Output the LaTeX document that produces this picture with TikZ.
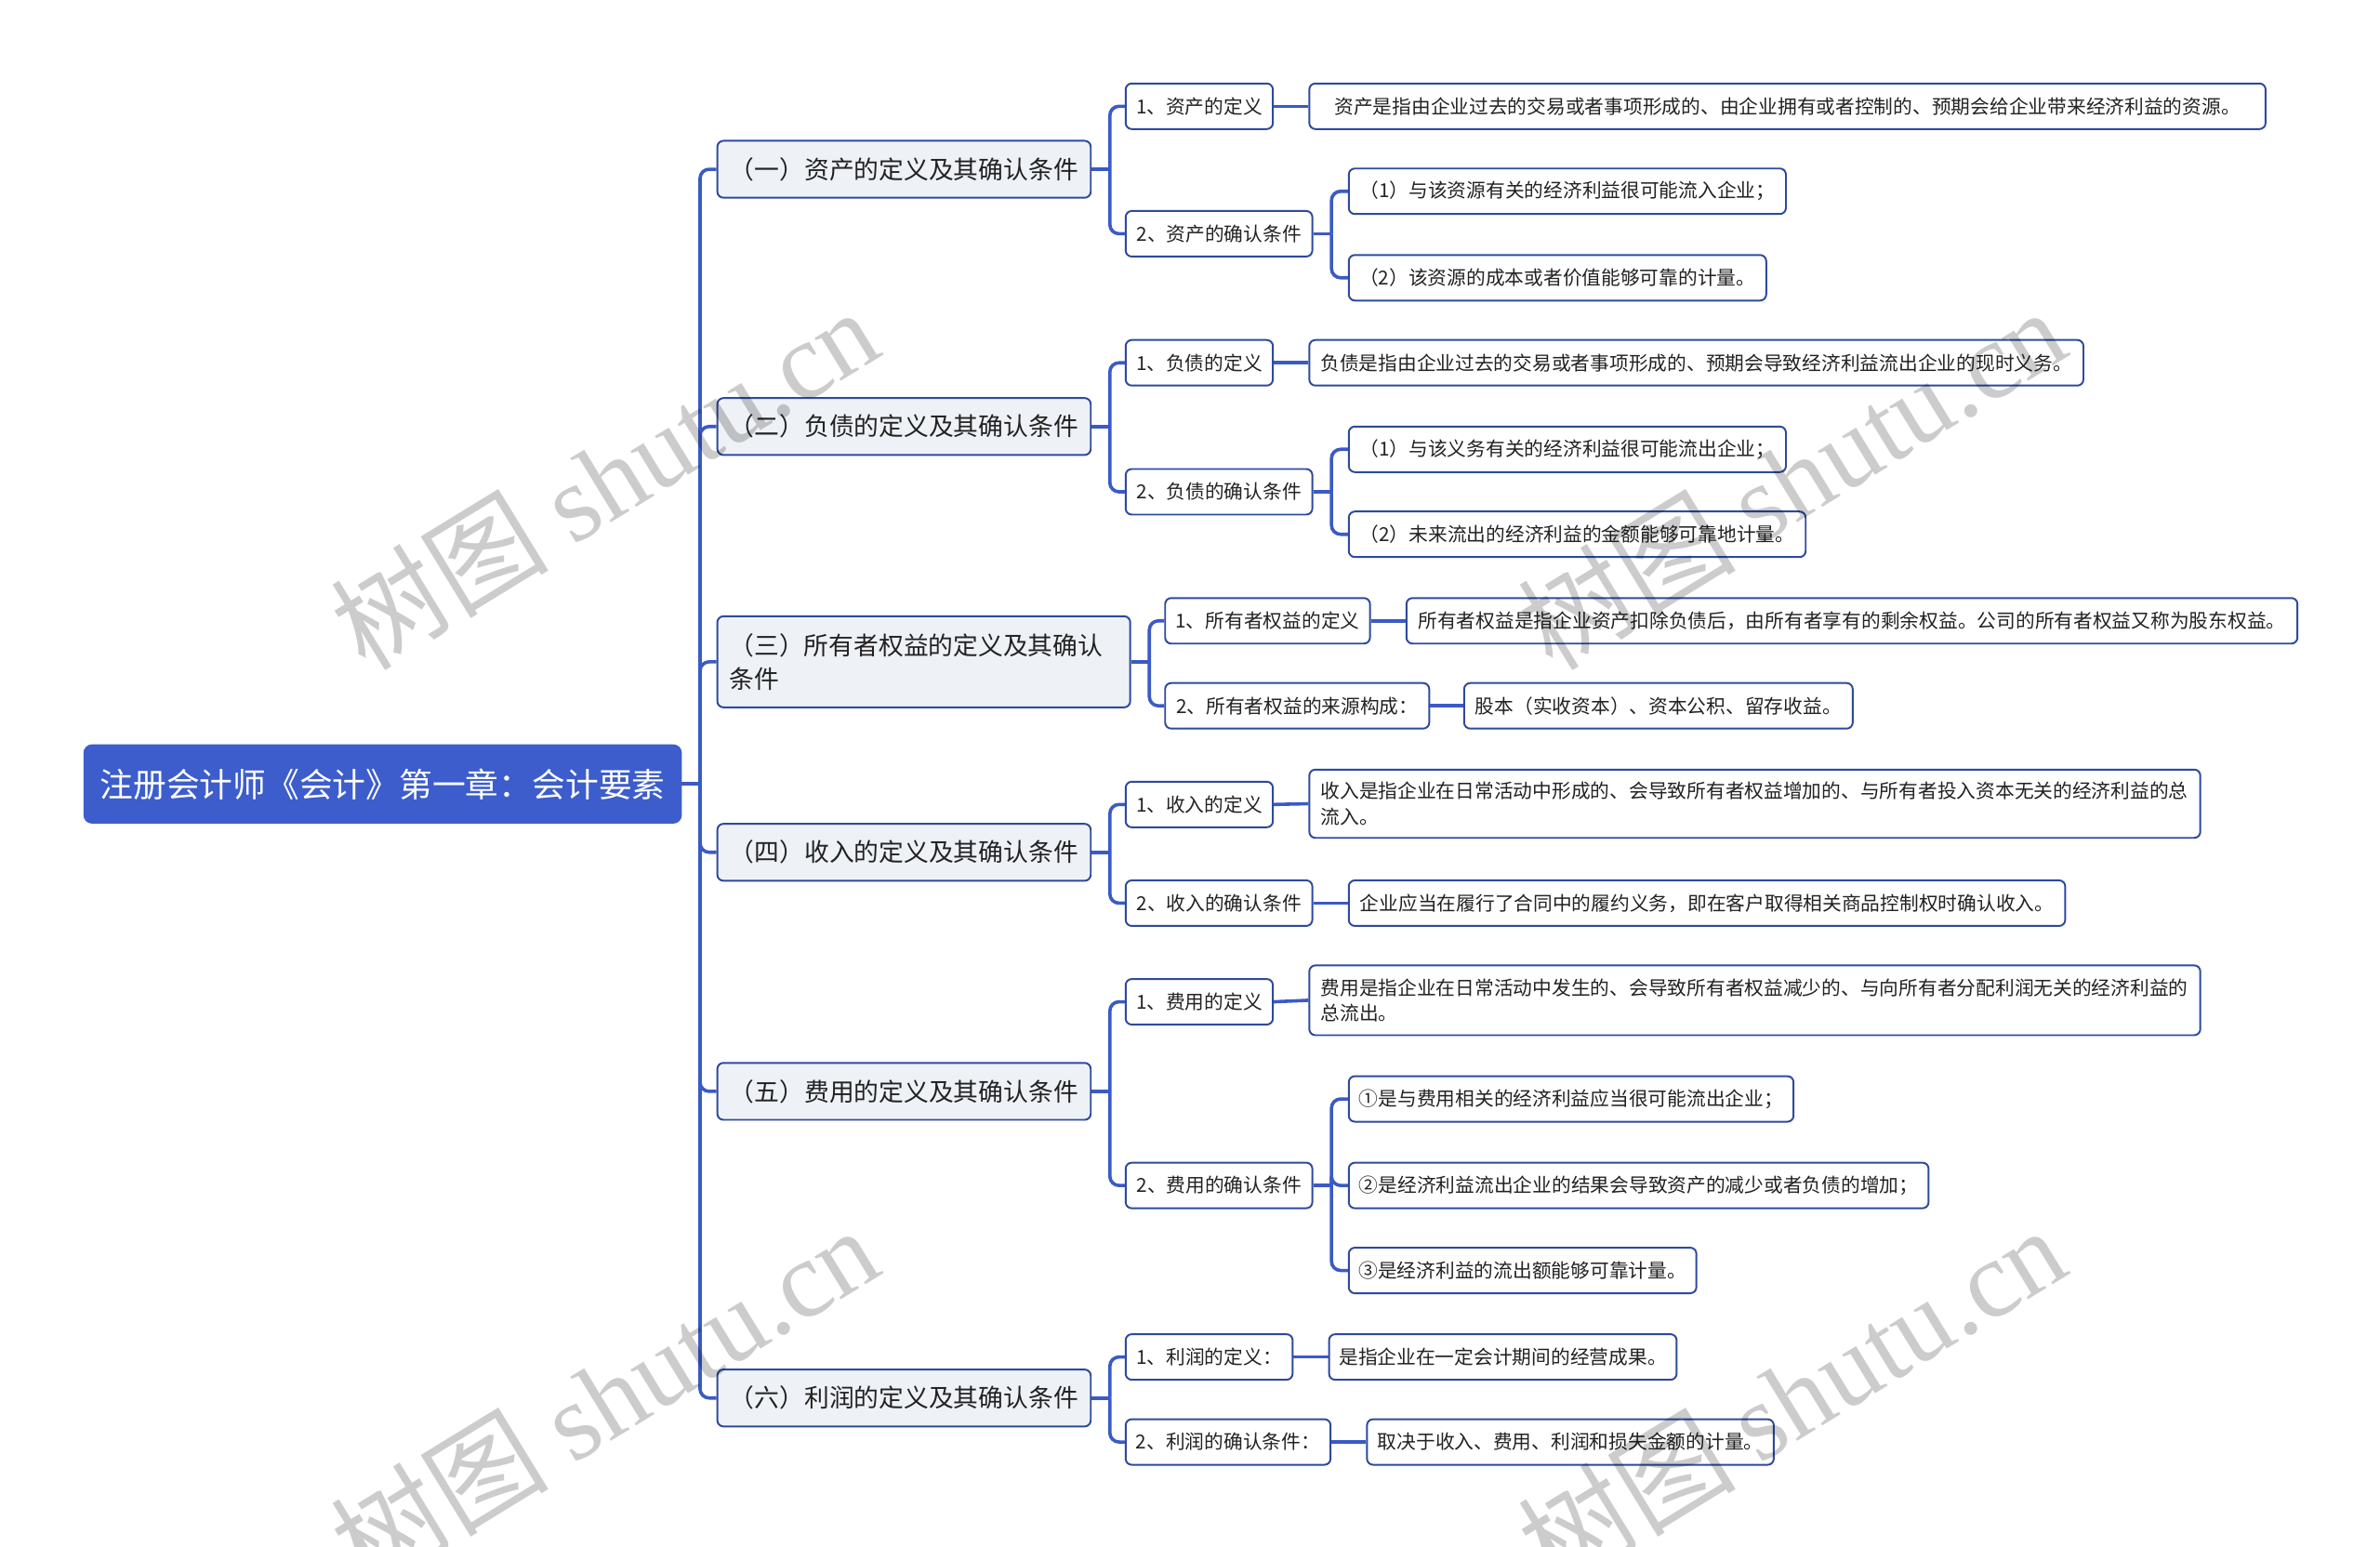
\documentclass[tikz,border=0pt]{standalone}
\usepackage{fontspec}
\setmainfont{Noto Sans CJK SC}
\newfontfamily\wmcjk{Noto Sans CJK SC}
\newfontfamily\wmlat{Liberation Serif}
\usetikzlibrary{calc}
\definecolor{rootblue}{HTML}{3D5DCC}
\definecolor{linkblue}{HTML}{3A5AC6}
\definecolor{edgeblue}{HTML}{2E4A9E}
\definecolor{lvfill}{HTML}{EEF1F6}
\definecolor{txt}{HTML}{222222}
\begin{document}
\begin{tikzpicture}[x=0.5pt,y=-0.5pt,
  nbox/.style={draw=edgeblue, line width=0.6pt, rounded corners=2pt, inner sep=0pt,
    anchor=west, text=txt, fill=white, minimum height=15pt,
    font=\fontsize{6.35pt}{8.5pt}\selectfont},
  lvone/.style={nbox, fill=lvfill, minimum height=18.75pt,
    font=\fontsize{8.2pt}{11pt}\selectfont},
  bw/.style={minimum width=#1*0.5pt},
  conn/.style={draw=linkblue, line width=1.1pt},
  spine/.style={conn, rounded corners=3pt},
  wmark/.style={rotate=31.5, text=black, opacity=0.2, inner sep=0pt}
]
\useasboundingbox (0,0) rectangle (1568,1019);
\fill[white] (0,0) rectangle (1568,1019);

% root
\node[nbox, fill=rootblue, draw=rootblue, text=white, bw=393, minimum height=25.5pt,
  rounded corners=2.5pt, font=\fontsize{10.95pt}{13pt}\selectfont]
  (root) at (55,516.5) {注册会计师《会计》第一章：会计要素};

% level 1
\node[lvone, bw=246] (A) at (472,111.5) {（一）资产的定义及其确认条件};
\node[lvone, bw=246] (B) at (472,281) {（二）负债的定义及其确认条件};
\node[lvone, bw=272, minimum height=30pt, align=left, text width=128pt] (C) at (472,436)
  {（三）所有者权益的定义及其确认\\条件};
\node[lvone, bw=246] (D) at (472,561.5) {（四）收入的定义及其确认条件};
\node[lvone, bw=246] (E) at (472,719) {（五）费用的定义及其确认条件};
\node[lvone, bw=246] (F) at (472,921) {（六）利润的定义及其确认条件};

% level 2
\node[nbox, bw=97] (A1) at (741,70) {1、资产的定义};
\node[nbox, bw=123] (A2) at (741,154) {2、资产的确认条件};
\node[nbox, bw=97] (B1) at (741,239) {1、负债的定义};
\node[nbox, bw=123] (B2) at (741,324) {2、负债的确认条件};
\node[nbox, bw=135] (C1) at (767,409) {1、所有者权益的定义};
\node[nbox, bw=174] (C2) at (767,465) {2、所有者权益的来源构成：};
\node[nbox, bw=97] (D1) at (741,530) {1、收入的定义};
\node[nbox, bw=123] (D2) at (741,595) {2、收入的确认条件};
\node[nbox, bw=97] (E1) at (741,660) {1、费用的定义};
\node[nbox, bw=123] (E2) at (741,781) {2、费用的确认条件};
\node[nbox, bw=110] (F1) at (741,894) {1、利润的定义：};
\node[nbox, bw=135] (F2) at (741,950) {2、利润的确认条件：};

% level 3
\node[nbox, bw=630] (A1a) at (862,70) {资产是指由企业过去的交易或者事项形成的、由企业拥有或者控制的、预期会给企业带来经济利益的资源。};
\node[nbox, bw=288] (A2a) at (888,126) {（1）与该资源有关的经济利益很可能流入企业；};
\node[nbox, bw=275] (A2b) at (888,183) {（2）该资源的成本或者价值能够可靠的计量。};
\node[nbox, bw=510] (B1a) at (862,239) {负债是指由企业过去的交易或者事项形成的、预期会导致经济利益流出企业的现时义务。};
\node[nbox, bw=288] (B2a) at (888,296) {（1）与该义务有关的经济利益很可能流出企业；};
\node[nbox, bw=301] (B2b) at (888,352) {（2）未来流出的经济利益的金额能够可靠地计量。};
\node[nbox, bw=587] (C1a) at (926,409) {所有者权益是指企业资产扣除负债后，由所有者享有的剩余权益。公司的所有者权益又称为股东权益。};
\node[nbox, bw=256] (C2a) at (964,465) {股本（实收资本）、资本公积、留存收益。};
\node[nbox, bw=587, minimum height=22.5pt, align=left, text width=286pt] (D1a) at (862,529.5)
  {收入是指企业在日常活动中形成的、会导致所有者权益增加的、与所有者投入资本无关的经济利益的总\\流入。};
\node[nbox, bw=472] (D2a) at (888,595) {企业应当在履行了合同中的履约义务，即在客户取得相关商品控制权时确认收入。};
\node[nbox, bw=587, minimum height=23pt, align=left, text width=286pt] (E1a) at (862,659)
  {费用是指企业在日常活动中发生的、会导致所有者权益减少的、与向所有者分配利润无关的经济利益的\\总流出。};
\node[nbox, bw=293] (E2a) at (888,724) {①是与费用相关的经济利益应当很可能流出企业；};
\node[nbox, bw=382] (E2b) at (888,781) {②是经济利益流出企业的结果会导致资产的减少或者负债的增加；};
\node[nbox, bw=229] (E2c) at (888,837) {③是经济利益的流出额能够可靠计量。};
\node[nbox, bw=229] (F1a) at (875,894) {是指企业在一定会计期间的经营成果。};
\node[nbox, bw=268] (F2a) at (900,950) {取决于收入、费用、利润和损失金额的计量。};

% connectors: root -> level 1
\coordinate (sR) at ($(root.east)+(12,0)$);
\draw[conn] (root.east) -- (sR);
\foreach \n in {A,B,C,D,E,F} \draw[spine] (sR) |- (\n.west);

% level 1 -> level 2
\foreach \p in {A,B,C,D,E,F} {
  \coordinate (s\p) at ($(\p.east)+(12,0)$);
  \draw[conn] (\p.east) -- (s\p);
  \draw[spine] (s\p) |- (\p1.west);
  \draw[spine] (s\p) |- (\p2.west);
}

% level 2 -> level 3 (single child)
\foreach \p in {A1,B1,C1,C2,D1,D2,E1,F1,F2} \draw[conn] (\p.east) -- (\p a.west);

% level 2 -> level 3 (several children)
\foreach \p in {A2,B2,E2} {
  \coordinate (s\p) at ($(\p.east)+(12,0)$);
  \draw[conn] (\p.east) -- (s\p);
}
\foreach \c in {A2a,A2b} \draw[spine] (sA2) |- (\c.west);
\foreach \c in {B2a,B2b} \draw[spine] (sB2) |- (\c.west);
\foreach \c in {E2a,E2b,E2c} \draw[spine] (sE2) |- (\c.west);

% watermarks
\node[wmark] (wm1) at (398,315) {\fontsize{36pt}{40pt}\selectfont{\wmcjk 树图} {\wmlat shutu.cn}};
\node[wmark] (wm2) at (1180,315) {\fontsize{36pt}{40pt}\selectfont{\wmcjk 树图} {\wmlat shutu.cn}};
\node[wmark] (wm3) at (398,920) {\fontsize{36pt}{40pt}\selectfont{\wmcjk 树图} {\wmlat shutu.cn}};
\node[wmark] (wm4) at (1180,920) {\fontsize{36pt}{40pt}\selectfont{\wmcjk 树图} {\wmlat shutu.cn}};
\end{tikzpicture}
\end{document}
